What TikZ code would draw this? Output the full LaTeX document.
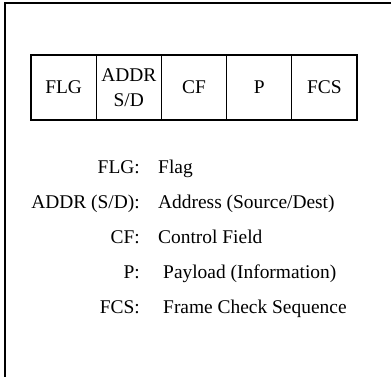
\documentclass[tikz,border=0pt]{standalone}
\usepackage{fontspec}
\setmainfont{Liberation Serif}
\usetikzlibrary{positioning}

\begin{document}
\begin{tikzpicture}[x=1bp,y=-1bp,
  cell/.style={draw,line width=1.3bp,minimum width=65.2bp,minimum height=65bp,
               inner sep=0pt,outer sep=0pt,align=center,font=\fontsize{19.5}{25}\selectfont},
  abbr/.style={anchor=base east,inner sep=0pt,font=\fontsize{19.5}{24}\selectfont},
  expl/.style={anchor=base west,inner sep=0pt,font=\fontsize{19.5}{24}\selectfont},
]
\useasboundingbox (0,0) rectangle (391,377);
% frame (only top and left edge show)
\draw[line width=1.8bp] (5,377) -- (5,3) -- (391,3);
% frame fields
\node[cell,anchor=north west] (flg) at (31,55) {FLG};
\node[cell,right=0pt of flg] (addr) {ADDR\\S/D};
\node[cell,right=0pt of addr] (cf) {CF};
\node[cell,right=0pt of cf] (p) {P};
\node[cell,right=0pt of p] (fcs) {FCS};
% legend
\foreach \n/\y/\x/\ab/\txt in {1/173.5/158/FLG:/Flag, 2/208.5/158/{ADDR (S/D):}/{Address (Source/Dest)},
                               3/243.5/158/CF:/{Control Field}, 4/278.5/163/P:/{Payload (Information)},
                               5/313.5/163/FCS:/{Frame Check Sequence}}
{
  \node[abbr] (key\n) at (140,\y) {\ab};
  \node[expl] (val\n) at (\x,\y) {\txt};
}
\end{tikzpicture}
\end{document}
